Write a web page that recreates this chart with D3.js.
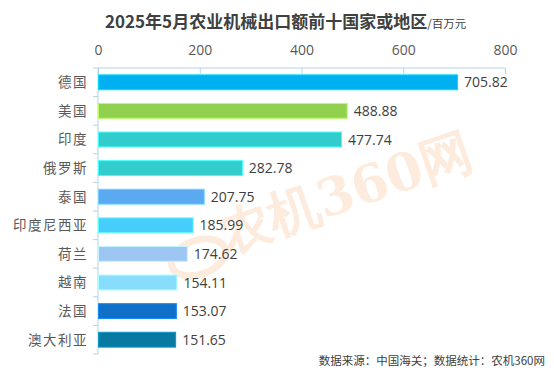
<!DOCTYPE html>
<html>
<head>
<meta charset="utf-8">
<script src="https://cdn.jsdelivr.net/npm/d3@7"></script>
<style>
  body { margin: 0; background: #fff; }
  svg { display: block; font-family: "Noto Sans CJK SC", "Noto Sans", sans-serif; }
</style>
</head>
<body>
<div class="canvas"></div>
<script>
const
    width = 554,
    height = 388,
    margin = { top: 68, right: 49, bottom: 34, left: 98 };

const countries = ["德国", "美国", "印度", "俄罗斯", "泰国", "印度尼西亚", "荷兰", "越南", "法国", "澳大利亚"];
const values = [705.82, 488.88, 477.74, 282.78, 207.75, 185.99, 174.62, 154.11, 153.07, 151.65];
const colors = ["#00b0f0", "#92d050", "#33cccc", "#33cccc", "#5ba9f0", "#47cdfb", "#9dc6f3", "#88dcfc", "#1070c8", "#087aa2"];
const xTicks = [0, 200, 400, 600, 800];

const data = countries.map((c, i) => ({ name: c, value: values[i], color: colors[i] }));

const svg = d3.select('.canvas').append("svg")
    .attr('width', width)
    .attr('height', height);

const x = d3.scaleLinear()
    .domain([0, 800])
    .range([margin.left, width - margin.right]);

const y = d3.scaleBand()
    .domain(countries)
    .range([margin.top, height - margin.bottom])
    .paddingInner(0.48)
    .paddingOuter(0.24);

// watermark
const wm = svg.append("g")
    .attr("transform", "translate(345,192) rotate(-19)")
    .attr("opacity", 0.2);
wm.append("text")
    .attr("text-anchor", "middle")
    .attr("dominant-baseline", "central")
    .attr("fill", "#f6a25a")
    .attr("font-size", 52)
    .attr("font-weight", "bold")
    .attr("font-family", "'DejaVu Serif', serif")
    .text("农机360网");
wm.append("ellipse")
    .attr("cx", -160).attr("cy", 14)
    .attr("rx", 28).attr("ry", 17)
    .attr("fill", "none")
    .attr("stroke", "#f6a25a")
    .attr("stroke-width", 7);

// title
const title = svg.append("text")
    .attr("x", 105)
    .attr("y", 28)
    .attr("fill", "#404040");
title.append("tspan")
    .attr("font-size", 17)
    .attr("font-weight", "bold")
    .text("2025年5月农业机械出口额前十国家或地区");
title.append("tspan")
    .attr("font-size", 11.5)
    .text("/百万元");

// top axis
const xAxis = svg.append("g")
    .attr("transform", `translate(0,${margin.top})`)
    .call(d3.axisTop(x).tickValues(xTicks).tickSize(-6).tickPadding(13).tickFormat(d3.format("d")));
xAxis.selectAll("path, line").attr("stroke", "#b4d3e9");
xAxis.select(".domain").attr("d", `M${x(0)},0H${x(800)}`);
xAxis.selectAll("text")
    .attr("font-size", 14)
    .attr("fill", "#595959")
    .attr("font-family", "'Open Sans', 'Noto Sans', sans-serif");

// left axis
const step = y.step();
const yAxis = svg.append("g");
yAxis.append("line")
    .attr("x1", margin.left).attr("x2", margin.left)
    .attr("y1", margin.top).attr("y2", height - margin.bottom)
    .attr("stroke", "#b4d3e9");
yAxis.selectAll(".tk")
    .data(d3.range(countries.length + 1))
    .enter()
    .append("line")
    .attr("class", "tk")
    .attr("x1", margin.left - 5).attr("x2", margin.left)
    .attr("y1", i => margin.top + i * step)
    .attr("y2", i => margin.top + i * step)
    .attr("stroke", "#b4d3e9");

svg.selectAll(".cat")
    .data(data)
    .enter()
    .append("text")
    .attr("class", "cat")
    .attr("x", margin.left - 10)
    .attr("y", d => y(d.name) + y.bandwidth() / 2)
    .attr("dy", "0.36em")
    .attr("text-anchor", "end")
    .attr("font-size", 13.5)
    .attr("letter-spacing", 1.5)
    .attr("fill", "#595959")
    .text(d => d.name);

// bars
svg.selectAll(".bar")
    .data(data)
    .enter()
    .append("rect")
    .attr("class", "bar")
    .attr("x", x(0) + 0.5)
    .attr("y", d => y(d.name))
    .attr("width", d => x(d.value) - x(0))
    .attr("height", y.bandwidth())
    .attr("fill", d => d.color)
    .attr("stroke", d => d3.color(d.color).brighter(0.6))
    .attr("stroke-width", 1);

svg.selectAll(".val")
    .data(data)
    .enter()
    .append("text")
    .attr("class", "val")
    .attr("x", d => x(d.value) + 7)
    .attr("y", d => y(d.name) + y.bandwidth() / 2)
    .attr("dy", "0.36em")
    .attr("font-size", 14)
    .attr("fill", "#404040")
    .attr("font-family", "'Open Sans', 'Noto Sans', sans-serif")
    .text(d => d.value.toFixed(2));

// footer
svg.append("text")
    .attr("x", 545)
    .attr("y", 365)
    .attr("text-anchor", "end")
    .attr("font-size", 11.5)
    .attr("fill", "#404040")
    .text("数据来源：中国海关；数据统计：农机360网");
</script>
</body>
</html>
